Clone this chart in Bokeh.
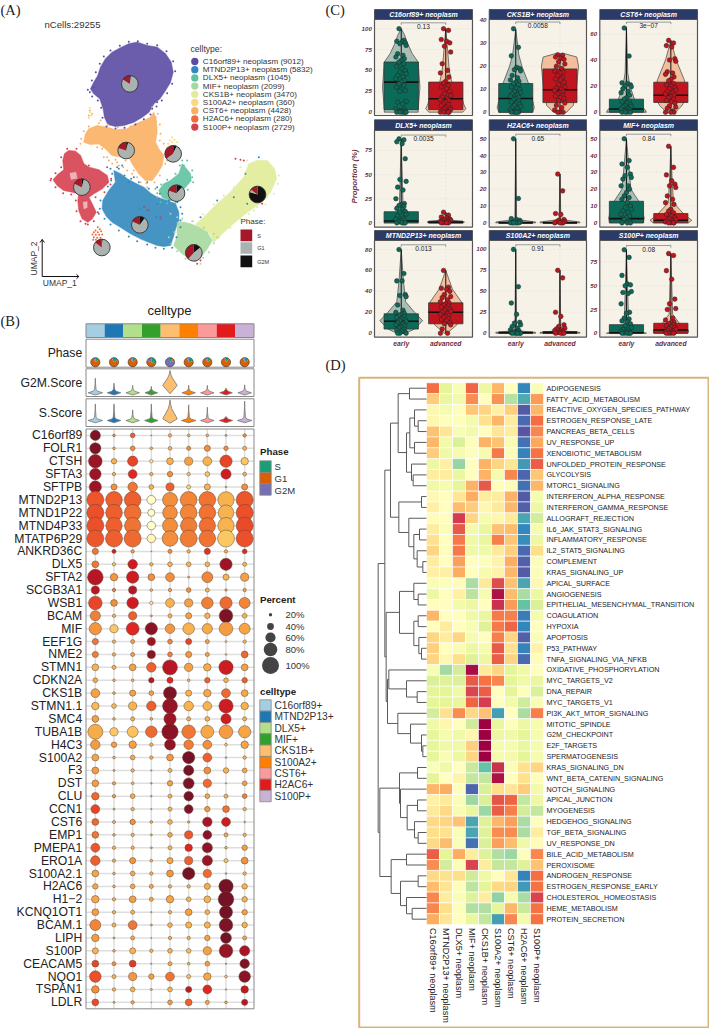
import numpy as np
from bokeh.plotting import figure
from bokeh.models import Range1d, LinearColorMapper, ColumnDataSource
from bokeh.core.properties import value
from bokeh.embed import file_html
from bokeh.resources import INLINE

SANS = value("Liberation Sans")
SERIF = value("Liberation Serif")

# ---------- Panel A data (UMAP coordinates) ----------
A_TYPES = ["C16orf89+ neoplasm (9012)", "MTND2P13+ neoplasm (5832)", "DLX5+ neoplasm (1045)", "MIF+ neoplasm (2099)",
           "CKS1B+ neoplasm (3470)", "S100A2+ neoplasm (360)", "CST6+ neoplasm (4428)", "H2AC6+ neoplasm (280)",
           "S100P+ neoplasm (2729)"]
A_COLORS = ["#5B4BA3", "#3288BD", "#5FC2A0", "#A5D99F", "#E0EC98", "#FBD97E", "#F9B063", "#F0693F", "#D5404F"]
BLOB_PURPLE = [(410,125),(440,135),(470,140),(495,160),(512,185),(518,215),(510,245),(495,270),(478,295),(460,310),(445,335),(425,350),(400,365),(370,375),(345,378),(322,372),(312,350),(308,325),(298,295),(280,280),(270,265),(280,245),(292,225),(300,200),(315,175),(335,155),(360,142),(385,130)]
BLOB_ORANGE = [(250,425),(255,400),(265,385),(290,375),(320,380),(345,388),(380,385),(405,370),(430,360),(450,350),(460,335),(468,360),(470,395),(465,425),(475,445),(490,465),(485,495),(470,520),(455,540),(435,540),(415,520),(405,505),(395,490),(385,470),(360,470),(335,465),(315,445),(295,430),(270,432)]
BLOB_RED = [(205,450),(225,452),(240,465),(250,490),(265,500),(295,508),(320,525),(325,545),(305,565),(280,580),(265,590),(275,610),(287,635),(275,655),(262,665),(245,655),(235,630),(232,600),(235,580),(215,575),(190,570),(170,555),(158,538),(172,522),(190,508),(187,480),(192,460)]
BLOB_BLUE = [(340,510),(360,520),(380,535),(405,548),(430,560),(450,578),(470,590),(500,600),(525,610),(535,635),(535,660),(525,685),(520,705),(510,735),(490,738),(470,735),(445,725),(420,715),(390,700),(360,680),(335,665),(318,648),(305,625),(307,600),(325,570),(345,545)]
BLOB_TEAL = [(545,490),(558,505),(570,520),(572,540),(555,560),(540,575),(530,600),(505,600),(485,590),(475,570),(490,550),(510,540),(535,520)]
BLOB_GREEN = [(530,665),(550,665),(570,670),(595,680),(620,695),(635,720),(620,745),(605,765),(590,775),(565,772),(545,760),(520,735),(530,705)]
BLOB_YELLOW = [(745,490),(770,480),(800,480),(822,505),(828,535),(810,575),(785,605),(740,635),(700,668),(665,700),(640,725),(628,698),(600,680),(585,672),(610,650),(650,610),(690,575),(730,530)]
HOLES = [[(208,518),(226,515),(230,533),(212,537)], [(248,605),(260,603),(260,622),(250,625)], [(345,480),(395,500),(410,530),(385,525),(350,500)], [(285,445),(322,462),(328,492),(302,498),(280,472)]]
STRAY_PURPLE = [(412,122),(440,130),(470,134),(498,152),(518,182),(524,212),(515,250),(500,278),(484,300),(468,318),(450,342),(430,356),(405,372),(372,382),(345,384),(318,378),(306,352),(302,322),(292,300),(275,288),(262,268),(274,240),(286,215),(298,190),(310,168),(330,150),(358,136),(385,124),(268,275),(280,262),(455,325),(470,305)]
STRAY_BLUE = [(350,500),(365,495),(385,545),(400,530),(440,545),(470,560),(505,600),(540,620),(540,680),(470,610),(545,640),(330,505),(300,600),(295,640),(735,520),(700,590),(600,650),(650,600),(775,470),(740,610),(335,520),(355,505),(372,525),(392,535),(415,545),(445,565),(478,580),(512,595),(530,605),(540,660),(528,710),(515,742),(490,745),(465,742),(440,732),(410,722),(385,708),(355,690),(330,672),(312,655),(298,625),(322,558),(332,540),(420,625),(432,618),(445,628),(468,650),(480,655)]
STRAY_ORANGE = [(480,400),(490,430),(300,360),(275,340),(268,330),(265,345),(455,320),(465,350),(420,545),(440,560),(395,520),(500,480),(240,430),(350,485),(320,470),(242,415),(250,392),(265,378),(295,368),(322,372),(352,380),(390,378),(472,340),(478,372),(478,420),(496,452),(494,490),(478,525),(462,546),(438,548),(410,530),(400,510),(375,480),(345,478),(325,480),(305,445),(290,440),(368,500),(380,510),(355,495),(335,490),(310,470)]
STRAY_RED = [(320,500),(150,540),(255,670),(430,620),(440,630),(480,650),(590,790),(600,780),(705,475),(720,478),(730,480),(785,610),(265,495),(200,445),(228,445),(182,470),(182,500),(165,518),(152,535),(165,560),(188,578),(212,582),(332,535),(330,552),(312,575),(285,590),(292,635),(280,662),(262,672),(240,662),(228,632),(226,600)]
STRAY_YELLOW = [(710,620),(680,650),(650,660),(770,620),(800,590),(740,480),(720,500),(745,640),(610,680),(640,650),(660,630),(735,515),(700,560),(670,585),(640,612),(608,642),(578,662),(835,525),(832,550),(820,580),(795,612),(760,630),(720,655),(690,682),(655,712)]
STRAY_GREEN = [(510,640),(530,650),(505,710),(640,700),(650,710),(600,790),(545,655),(575,662),(610,682),(640,728),(625,755),(608,772),(585,782),(555,775),(530,752),(512,730),(522,695)]
STRAY_TEAL = [(560,480),(545,480),(470,590),(480,605),(575,530),(465,565),(538,495),(550,495),(575,510),(578,545),(562,568),(545,585),(525,606),(500,608),(470,578),(482,552),(500,538),(525,520)]
STRAY_H2AC6 = [(292,680),(298,686),(285,690),(280,695),(292,695),(302,692),(276,702),(286,703),(296,703),(305,702),(280,710),(290,712),(300,712),(286,718),(296,722),(278,718)]
STRAY_S100A2 = [(515,410),(522,418),(508,420),(530,425),(515,425),(503,430),(525,435),(268,335),(272,345),(265,352),(268,322),(500,440),(535,442)]
PIE_CENTERS = [(388,250),(377,450),(518,460),(244,560),(528,578),(771,582),(418,673),(304,741),(580,757)]
PIE_G2M = [.02,.04,.07,.04,.12,.80,.10,.02,.14]
PIE_G1 = [.82,.76,.58,.78,.68,.05,.72,.83,.48]
PIE_S = [.16,.20,.35,.18,.20,.15,.18,.15,.38]

# ---------- Panel B data ----------
COLS_B = ["C16orf89+", "MTND2P13+", "DLX5+", "MIF+", "CKS1B+", "S100A2+", "CST6+", "H2AC6+", "S100P+"]
COLS_B_COLORS = ["#A6CEE3", "#1F78B4", "#B2DF8A", "#33A02C", "#FDBF6F", "#FF7F00", "#FB9A99", "#E31A1C", "#CAB2D6"]
GENES = ["C16orf89","FOLR1","CTSH","SFTA3","SFTPB","MTND2P13","MTND1P22","MTND4P33","MTATP6P29","ANKRD36C","DLX5","SFTA2","SCGB3A1","WSB1","BCAM","MIF","EEF1G","NME2","STMN1","CDKN2A","CKS1B","STMN1.1","SMC4","TUBA1B","H4C3","S100A2","F3","DST","CLU","CCN1","CST6","EMP1","PMEPA1","ERO1A","S100A2.1","H2AC6","H1\u22122","KCNQ1OT1","BCAM.1","LIPH","S100P","CEACAM5","NQO1","TSPAN1","LDLR"]
PCT = [
[60,16,28,6,20,16,16,12,20],[66,16,28,16,22,24,36,26,24],[80,32,60,20,40,48,52,72,44],[68,20,52,20,32,20,28,60,22],[72,36,56,28,48,24,36,10,36],
[100,98,98,52,88,98,98,96,100],[100,98,98,42,86,98,98,92,100],[100,96,96,50,88,96,96,96,100],[100,100,100,50,92,100,98,100,100],
[36,24,20,6,24,20,36,20,28],[40,20,56,20,28,28,28,72,24],[92,44,72,40,52,12,64,36,48],[48,20,48,16,20,28,24,14,20],[80,40,68,20,52,48,68,72,64],
[60,20,48,12,24,36,32,80,28],[72,48,76,72,56,68,60,80,64],[36,20,24,48,28,36,24,12,20],[36,20,24,48,28,36,24,10,40],[40,24,40,56,88,48,44,84,40],
[28,16,16,32,36,16,32,28,32],[52,16,36,28,76,36,44,52,40],[44,28,48,56,88,56,52,84,44],[40,16,24,16,72,24,28,60,24],[88,48,64,68,96,80,76,80,72],
[56,32,44,20,64,56,52,16,44],[40,16,28,20,40,72,52,10,20],[40,12,20,8,24,60,40,32,28],[40,20,16,10,32,64,48,8,28],[44,20,28,10,24,56,28,24,28],
[52,12,20,8,24,52,32,40,20],[40,18,32,16,28,14,56,52,10],[40,16,20,12,28,48,52,24,20],[52,20,20,12,24,44,60,16,32],[56,20,36,16,36,48,60,24,40],
[40,16,28,20,40,72,48,10,20],[32,16,28,24,20,20,36,84,32],[44,20,40,24,44,28,40,92,32],[40,20,24,8,20,40,28,76,32],[64,24,52,12,28,36,36,80,32],
[44,12,24,6,20,20,32,64,24],[36,16,36,20,28,28,48,80,60],[40,24,40,8,24,16,28,8,56],[68,24,48,32,52,24,44,16,68],[44,20,28,12,28,36,52,8,44],[40,12,20,4,28,40,24,16,36]]
LVL = [
[8,4,5,4,3,3,3,3,4],[8,3,4,3,3,4,4,4,3],[7.5,3,5.5,1,3,3.5,3,5.5,2.5],[7.5,3,6,3,4,2.5,2.5,6.5,3],[7.5,4,4.5,3,5,2,3,3,4],
[5.2,5,5,0,4,4.2,4.6,3,5.2],[5.3,5,4.7,0,4,4.2,4.6,3,5.3],[5.3,5,4.6,0,4,4.4,4.7,3,5.4],[5.2,5,4.8,.5,4,4.4,4.6,2.5,5.3],
[4.5,6.5,3.5,3,4,3,5.8,3,6],[4.5,2.5,6.5,3,3,3,3,7.5,3],[7,3.8,6.5,4,4,3,4.2,3,3.5],[7,4.5,7,3,3.5,4,3,3,3.5],[5.5,4,6.5,1,3,3.5,4.3,4.8,4.2],
[4.3,3,5,3,3,3.5,3,8,3],[3.8,2.5,6,7.8,3.8,3,3.2,3.6,3.4],[4.5,3,3.5,7.5,4.2,5.5,3.5,1.5,3],[4.3,3,3.5,7.8,4.3,3.8,3.5,2.5,4.8],[3,3,3.5,5,7,3.5,3.2,6.5,3.5],
[3.2,3,3,7,6,3,5,3,5],[3.5,3,3.5,3.5,8,3,3.3,4.8,3.3],[2.8,2.8,3,5,7.6,3,3,6.5,3],[3.5,3,3,3,7.5,3,3,6.5,3],[3.2,2.5,2.6,4.8,7.8,4.5,3.3,3.6,3.4],
[3.6,3.5,3.5,3,7.7,4.4,4,2.5,3.3],[3.4,3,3.3,3,3.8,8.2,5,3,3],[3.6,3,3,3,3,8.2,4,3,3.4],[3.6,3.5,3,3,3.5,8,4.8,3,3.5],[4.8,3.5,3.2,3,3,8.2,3.3,3,4.3],
[5.5,3,3,3,3,8,3.7,4.6,3],[4.8,3,4,3,3,3,7.3,6.5,3],[4.5,3,3,3,3.3,5.2,7.8,3.3,3],[5.2,3,3,3,3,6,7.7,3,3.5],[5,3.2,3.8,3,3.3,5,7.5,2.5,3.9],
[3.4,3,3.3,3,3.8,8.2,4.8,3,3],[3.3,3,3.4,3.3,3,3,3.2,8.2,3],[3.3,3,3.5,3.3,3.4,3,3,8.2,3],[3.5,3,3,3,3,3.5,3,8.2,3.5],[4.2,3,4.5,3,3,3,3,8,3],
[3.6,3,3.3,3,3,3,3.4,8.2,3.4],[3,3,3,3,3,2.8,3.5,7.6,7.3],[5.5,4,5.7,3,3.3,3,3.6,4,8],[5.3,3,3.8,3.5,4.6,2.6,3.3,2.5,7.8],[4,3,3,3,3,6.7,6,3,6.7],[5.4,3,3.3,3,3.6,5,3.3,3,7]]
LEVEL_COLORS = ["#FFFFCC","#FFEDA0","#FCD976","#F8B04C","#F28A3A","#EE5A2C","#DC1F20","#B01526","#741226"]
PHASE_COLORS_B = ["#1B9E77", "#D95F02", "#7570B3"]
PHASE_NAMES = ["S", "G1", "G2M"]
B_PIE_S = [.14,.16,.12,.30,.10,.22,.14,.12,.16]
B_PIE_G1 = [.80,.76,.80,.52,.12,.72,.80,.82,.78]
B_PIE_G2M = [.06,.08,.08,.18,.78,.06,.06,.06,.06]
G2M_TOPS = [.97,.64,.49,.42,1.49,.49,.49,.31,.53]
G2M_WIDTH = [.39,.36,.36,.34,.39,.36,.36,.34,.36]
S_TOPS = [1.11,1.11,.71,1.11,1.38,1.05,.89,.27,1.29]
S_WIDTH = [.39,.36,.36,.36,.39,.39,.36,.36,.39]
LEGEND_PCT = [20,40,60,80,100]

# ---------- Panel C data ----------
C_TITLES = ["C16orf89+ neoplasm","CKS1B+ neoplasm","CST6+ neoplasm","DLX5+ neoplasm","H2AC6+ neoplasm","MIF+ neoplasm","MTND2P13+ neoplasm","S100A2+ neoplasm","S100P+ neoplasm"]
C_P = ["0.13","0.0058","3e\u221207","0.0035","0.65","0.84","0.013","0.91","0.08"]
C_TICKS = [[0,25,50,75,100],[0,10,20,30,40],[0,20,40,60],[0,25,50,75],[0,10,20,30,40,50],[0,10,20,30,40,50],[0,20,40,60,80],[0,25,50,75,100],[0,25,50,75]]
C_YRANGE = [(-4,111),(-1.4,40.3),(-2.5,71),(-4.5,95.7),(-2.6,54.9),(-2.6,54.9),(-3.8,88.6),(-4.8,110.6),(-4.2,97.8)]
C_BRACKET = [107,39.2,69,91,52.7,52.7,84.5,105.5,92.5]
# box: q1, median, q3, whisker high
C_BOX_E = [(3,36,60,100),(0,6,12.5,36),(0,2.5,10,65),(0,2,11.5,87),(0,0,.5,50),(0,2.5,12.8,50),(4,11.5,18.5,80),(0,.5,1.5,100),(0,.5,9,88)]
C_BOX_A = [(3,16,36,100),(4.2,9.8,18.8,25),(7.5,13,23,55),(0,.5,1.8,11),(0,0,.5,29),(0,1.5,5.5,45.5),(9,20,29,60),(0,.7,2,75),(0,3.5,10.5,84)]
# violin profile: (value, half width)
C_VIO_E = [[(0,.38),(3,.38),(30,.42),(60,.38),(70,.25),(85,.12),(92,.08),(100,0)],
           [(0,.38),(2,.42),(12,.3),(20,.14),(25,.07),(36,0)],
           [(0,.45),(2,.42),(8,.2),(20,.08),(30,.03),(65,0)],
           [(0,.38),(2,.3),(10,.1),(20,.04),(87,0)],
           [(0,.45),(.5,.45),(2,.02),(50,0)],
           [(0,.38),(3,.4),(12,.3),(20,.1),(35,.05),(50,0)],
           [(0,.1),(4,.3),(12,.48),(20,.3),(30,.1),(50,.05),(80,0)],
           [(0,.45),(1,.45),(3,.02),(100,0)],
           [(0,.45),(2,.2),(10,.05),(88,0)]]
C_VIO_A = [[(0,.38),(4,.45),(10,.4),(20,.35),(37,.13),(50,.08),(75,.04),(100,0)],
           [(0,.15),(3,.3),(10,.37),(20,.42),(24,.38),(25.5,.1)],
           [(0,.1),(5,.25),(13,.38),(25,.3),(40,.12),(55,0)],
           [(0,.4),(1,.42),(3,.1),(11,0)],
           [(0,.45),(.5,.45),(2,.02),(29,0)],
           [(0,.4),(1.5,.47),(5,.3),(12,.06),(25,.03),(45.5,0)],
           [(0,.03),(8,.25),(20,.38),(30,.35),(42,.15),(60,0)],
           [(0,.45),(1,.45),(3,.02),(75,0)],
           [(0,.38),(3,.4),(10,.2),(20,.04),(84,0)]]
C_PTS_E = [[100,86,85,84,83,82,80,70,68,66,64,62,60,58,55,52,50,48,46,44,42,40,38,36,34,32,30,28,26,25,13,12,10,4,3,2,1,0,0,0,0,0,0],
           [36.3,28.2,24.5,19.5,19,18.5,18,16,15,14,13.5,13,12.5,12,11,10.5,10,9,8.5,8,7.5,7,6.5,6,5.5,5,4.5,4,3.5,3,2.5,2,1.5,1,.5,0,0,0,0,0],
           [64.5,43,22.5,22,21,20,19.5,18,16,15,13,11,10,8.5,8,7,6,5,4.5,4,3,2.5,2,1.5,1,.5,0,0,0,0],
           [87,86,84,82,66.5,45,43,37,34,25,20,19,18,17,15,14,12,11,9,7,5,4,3,2,1,0,0,0,0],
           [50,14.5,2.5,2,1.5,1,.5,0,0,0,0,0,0],
           [50,37,35,33,29,28,27,26,22,22,20,18,16,15,14,12,10,9,8,7,6,5,4,3,2,1,0,0,0],
           [80,57,50,50,37,36,35,27,22,20,19,18,17,16,15,14,13,12,11,10,9,8,7,6,5,4,3,2,1,0,0,0],
           [100,55.5,36,22.5,13,12,10,8,6,4,3,2,1.5,1,.5,0,0,0,0,0,0],
           [88,80,61,52,51,50,44,43,42,31,22,21,16,15,13,12,10,8,6,4,3,2,1,.5,0,0,0,0,0]]
C_PTS_A = [[100,98,87,85,83,79,72,58,50,47,42,37,35,32,30,28,25,22,20,18,16,15,14,12,10,9,8,6,5,4,3,2,1,0,0,0,0,0],
           [25,24.8,24,23.5,23,22,21,20,19,18,17.5,17,16,15,14.5,14,13,12,11,10.5,10,9.5,9,8.5,8,7.5,7,6.5,6,5,4,3,2,1,0,0,0],
           [55,53,51,50,41,40,39,31,30,29,27,25,24,22,21,20,19,18,17,16,15,14,13,12,11,10,9,8,7,5,4,3,1,0,0,0],
           [11,8,6,5,4,3.5,3,2.5,2,1.5,1,.5,0,0,0,0],
           [29,19,5.5,5,2,1.5,1,.5,0,0,0,0],
           [45.5,33,28.5,25,23,22,21,16,14,12,11,8,7,6,5,4,3,2.5,2,1.5,1,.5,0,0,0,0],
           [60,44,43,42,40,37,35,34,32,30,29,28,27,26,25,24,23,22,21,20,19,18,17,16,15,14,13,12,10,9,8,4,0,0],
           [75,66,25,20,10,8,6,5,4,3,2,1,.5,0,0,0,0],
           [84,82,66,57,36,31,26,25,16,14,12,11,10,9,8,7,6,5,4,3,2,1,.5,0,0,0,0]]
JITTER = [-.05,.06,-.1,.02,.09,-.03,.11,-.08,.04,-.12,.07,0]

# ---------- Panel D data ----------
D_COLS = ["C16orf89+ neoplasm","MTND2P13+ neoplasm","DLX5+ neoplasm","MIF+ neoplasm","CKS1B+ neoplasm","S100A2+ neoplasm","CST6+ neoplasm","H2AC6+ neoplasm","S100P+ neoplasm"]
PATHWAYS = ["ADIPOGENESIS","FATTY_ACID_METABOLISM","REACTIVE_OXYGEN_SPECIES_PATHWAY","ESTROGEN_RESPONSE_LATE","PANCREAS_BETA_CELLS","UV_RESPONSE_UP","XENOBIOTIC_METABOLISM","UNFOLDED_PROTEIN_RESPONSE","GLYCOLYSIS","MTORC1_SIGNALING","INTERFERON_ALPHA_RESPONSE","INTERFERON_GAMMA_RESPONSE","ALLOGRAFT_REJECTION","IL6_JAK_STAT3_SIGNALING","INFLAMMATORY_RESPONSE","IL2_STAT5_SIGNALING","COMPLEMENT","KRAS_SIGNALING_UP","APICAL_SURFACE","ANGIOGENESIS","EPITHELIAL_MESENCHYMAL_TRANSITION","COAGULATION","HYPOXIA","APOPTOSIS","P53_PATHWAY","TNFA_SIGNALING_VIA_NFKB","OXIDATIVE_PHOSPHORYLATION","MYC_TARGETS_V2","DNA_REPAIR","MYC_TARGETS_V1","PI3K_AKT_MTOR_SIGNALING","MITOTIC_SPINDLE","G2M_CHECKPOINT","E2F_TARGETS","SPERMATOGENESIS","KRAS_SIGNALING_DN","WNT_BETA_CATENIN_SIGNALING","NOTCH_SIGNALING","APICAL_JUNCTION","MYOGENESIS","HEDGEHOG_SIGNALING","TGF_BETA_SIGNALING","UV_RESPONSE_DN","BILE_ACID_METABOLISM","PEROXISOME","ANDROGEN_RESPONSE","ESTROGEN_RESPONSE_EARLY","CHOLESTEROL_HOMEOSTASIS","HEME_METABOLISM","PROTEIN_SECRETION"]
HEAT = [
[8,4,4.7,8.2,4.3,6.8,5,1,4.8],[6.4,4.2,4.5,7.5,5,7.4,3.2,1.6,7.3],[5.3,4.6,4.9,6.5,6.2,5.5,6.3,.2,6.8],[5.3,4.9,4.9,4.5,5.9,6.8,5.6,.5,8],[6.6,5.8,4.7,4.5,5,5.8,5.6,.1,7.6],
[6.8,4.5,3.8,4.9,6.9,6.6,4.7,.6,7.1],[6.4,4.4,4.6,4.9,4.6,7.8,4.8,.9,7.9],[4.3,5.5,2.7,5,6.9,6.2,5.8,1.3,8.3],[5.6,5.6,4.2,5,6.9,4.6,7.6,.4,6.5],[4.4,4.6,4.1,6.9,8.4,4.9,5.1,.6,6.8],
[5.2,5,5.8,7,5.6,5.6,6.9,.2,4.6],[5.5,5,6.7,6.4,5.3,5.7,6.8,.3,4.3],[5.1,5,9,6.2,4.6,5.3,5.7,1.5,3.7],[5.6,4.8,8.4,4.5,4.2,6.6,6.7,1,4.6],[5.9,5,7.8,4.4,4.2,7.7,6.5,1.1,4.3],
[6.2,4.9,7.8,4.4,4.4,5.7,6.3,.5,6],[5.6,5,7.2,5,4.9,5.4,7,.3,4.8],[5.5,5.5,7,5,4.6,5.4,6.8,.2,4.8],[4.7,4.9,5.1,3,5.7,8.7,6.6,1.5,5.2],[4.3,5,5.5,3.3,4.6,9.7,6.7,3,4.3],
[5,5,4.5,4.3,5,9.2,7.3,2,3.8],[6.8,5,5,4.4,4.2,7.8,7.7,.8,4.6],[5,5.6,5,4.7,3.9,7.8,8.2,1,5],[6.2,5.6,6.2,4.6,5,7.7,6.2,.3,4.8],[6.3,5,4.7,4.3,4.6,8.4,5.9,.9,5.4],
[6.2,5.2,6,3.9,4.3,8.3,6.2,.5,5.1],[4.7,2.9,3.7,9.8,5.7,6.2,4,4.4,5],[3.8,3.9,3.8,8.4,7.9,7.6,4,4.4,4.2],[4,4,4.4,8.8,8.3,5,4,4.9,3.8],[4,4,4.2,8.2,9,5,4.5,3.6,4.7],
[3.7,5.9,7.5,6.1,6.6,1.4,5,3,7.7],[4.4,5.3,5,3.6,10,4.2,4.9,4.3,4.6],[4.1,4.6,4.4,5.3,10,4.3,4.4,4,4.6],[4.1,4.4,4.4,6.3,10,4.6,4.6,4.2,4.6],[4.1,4.7,4.3,6.2,10,4.6,4.5,4,4.6],
[4.8,4.4,5,3.5,2,9.2,4.8,5.9,6.2],[4,5,5.4,3.4,3.4,9.7,5,5.9,4.9],[6.8,7,5,.4,3.8,6,5.8,6.4,4.5],[5.5,5.7,4.8,2.8,3.8,8.5,8.2,3.4,4.3],[5.7,6.1,4.7,4.2,2.8,8.3,7.7,3.7,3.4],
[6.1,6.2,6.6,1.5,3.9,6.8,7.2,3,4.9],[6,5.9,4.8,1.5,3.9,7.5,7.5,3,5.6],[6.1,6.7,4.8,.6,3.8,7.2,6.7,4.4,5.1],[8.3,4,7,5.6,3.9,3.1,2.8,4.9,7.6],[7.5,3.7,4.8,8.9,5.6,3.4,3.4,3.9,6.6],
[6.1,5.9,6,3.6,4.4,5,5.8,.9,8],[6.7,5.8,4.9,3.3,4,6.1,6.2,1.3,7.9],[7.6,5.6,4.8,3.9,5.6,2.6,4.6,3,8.9],[7.6,6,4.9,3.1,3.1,4.1,6.8,3.5,7.9],[7,5.8,5,4.2,3.4,1.4,7.6,4.5,7.9]]
SPECTRAL = ["#5E4FA2","#3288BD","#66C2A5","#ABDDA4","#E6F598","#FFFFBF","#FEE08B","#FDAE61","#F46D43","#D53E4F","#9E0142"]
N_A = (108,(85,(51,0,1),(60,(50,(36,2,(25,3,4)),(36,5,6)),(45,7,(40,8,9)))),
           (83,(15,10,11),(53,12,(38,(21,13,14),(28,15,(11,16,17))))))
N_B = (81,(38,18,(25,19,20)),(38,(25,21,22),(23,23,(15,24,25))))
N_C = (117,(113,26,(60,27,(28,28,29))),(86,30,(48,31,(15,32,(11,33,34)))))
N_D = (81,(27,35,36),(78,37,(58,(27,38,39),(36,40,(25,41,42)))))
N_E = (106,(60,43,44),(78,(25,45,46),(60,47,(43,48,49))))
TREE = (145,(125,N_A,(121,N_B,N_C)),(140,N_D,N_E))


def ramp(colors, n=256):
    rgb = np.array([[int(c[i:i+2],16) for i in (1,3,5)] for c in colors], float)
    t = np.linspace(0, len(colors)-1, n)
    out = []
    for v in t:
        i = min(int(v), len(colors)-2)
        f = v-i
        r = rgb[i]*(1-f)+rgb[i+1]*f
        out.append("#%02X%02X%02X" % tuple(int(round(x)) for x in r))
    return out

p = figure(width=709, height=1028, x_range=Range1d(0,709), y_range=Range1d(1028,0),
           output_backend="svg", toolbar_location=None, min_border=0,
           x_axis_location=None, y_axis_location=None, outline_line_color=None,
           background_fill_color="white", border_fill_color="white")
p.grid.visible = False
p.styles = {"position":"absolute","left":"0px","top":"0px"}

def sub(xs, xt, ys, yt):
    return p.subplot(x_source=Range1d(*xs), y_source=Range1d(*ys), x_target=Range1d(*xt), y_target=Range1d(*yt))

def txt(g, x, y, s, size, color="#222222", align="left", base="middle", font=SANS, style="normal", angle=0.0):
    if not isinstance(x, (list, tuple, np.ndarray)):
        x, y, s = [x], [y], [s]
    g.text(x=list(x), y=list(y), text=list(s), text_font=font, text_font_size=f"{size}px", text_color=color,
           text_align=align, text_baseline=base, text_font_style=style, angle=angle)

# panel letters
txt(p, [0,0,325,325], [9,320,9,364], ["(A)","(B)","(C)","(D)"], 14.5, color="#222222", font=SERIF)

# ---------- Panel A ----------
ga = sub((0,1020),(0,340),(0,960),(0,320))
blobs = [(BLOB_PURPLE,0),(BLOB_ORANGE,6),(BLOB_BLUE,1),(BLOB_TEAL,2),(BLOB_YELLOW,4),(BLOB_GREEN,3),(BLOB_RED,8)]
for b, c in blobs:
    ga.patch([q[0] for q in b],[q[1] for q in b], fill_color=A_COLORS[c], line_color=A_COLORS[c], line_width=1.2, line_alpha=.5, fill_alpha=.9)
for h in HOLES:
    ga.patch([q[0] for q in h],[q[1] for q in h], fill_color="white", line_color="white", fill_alpha=.55, line_alpha=.2)
for pts, c in [(STRAY_PURPLE,0),(STRAY_BLUE,1),(STRAY_ORANGE,6),(STRAY_RED,8),(STRAY_YELLOW,4),(STRAY_GREEN,3),(STRAY_TEAL,2),(STRAY_H2AC6,7),(STRAY_S100A2,5)]:
    ga.scatter([q[0] for q in pts],[q[1] for q in pts], size=2, color=A_COLORS[c], line_width=0)

def pie_poly(cx, cy, r, t0, t1):
    t = np.linspace(t0, t1, max(3, int((t1-t0)*40)+2))*2*np.pi
    return [cx]+list(cx+r*np.sin(t))+[cx], [cy]+list(cy-r*np.cos(t))+[cy]

def pies(g, centers, r, fr0, fr1, fr2, cols, line, scale, lw):
    xs, ys, cs = [], [], []
    for (cx, cy), a, b, c in zip(centers, fr0, fr1, fr2):
        st = 0
        for f, col in zip((a, b, c), cols):
            x, y = pie_poly(cx, cy, r, st, st+f)
            xs.append(x); ys.append(y); cs.append(col)
            st += f
    g.patches(xs, ys, fill_color=cs, line_color=None)
    g.scatter([q[0] for q in centers],[q[1] for q in centers], marker="circle", size=2*r*scale, fill_color=None, line_color=line, line_width=lw)

pies(ga, PIE_CENTERS, 25, PIE_G2M, PIE_G1, PIE_S, ["#111111","#ABB3B0","#A5182A"], "#333333", 1/3, .9)

txt(p, 44, 23.7, "nCells:29255", 9.6, color="#333333")
txt(p, 190, 48, "celltype:", 8.6, color="#333333")
ly = 61 + 8.2*np.arange(9)
p.scatter([194.3]*9, list(ly), size=7.3, color=A_COLORS, line_width=0)
txt(p, [202.3]*9, list(ly), A_TYPES, 8.1, color="#333333")
txt(p, 240, 221, "Phase:", 8, color="#333333")
p.quad(left=[240]*3, right=[251.7]*3, top=[229,241.7,255], bottom=[240.7,253.3,266.7], fill_color=["#A5182A","#ABB3B0","#111111"], line_color=None)
txt(p, [256.7]*3, [235,247.5,261], PHASE_NAMES, 5.5, color="#333333")
# arrows
p.segment([41.7,41.7],[276,276],[41.7,78.3],[239,276], line_color="#111111", line_width=1)
p.segment([39.5,43.9,76,76],[242,242,273.8,278.2],[41.7,41.7,78.3,78.3],[239,239,276,276], line_color="#111111", line_width=1)
txt(p, 33.7, 258, "UMAP_2", 8.5, color="#333333", align="center", angle=np.pi/2)
txt(p, 42.3, 282, "UMAP_1", 8.5, color="#333333")

# ---------- Panel B ----------
txt(p, 169, 310, "celltype", 13, color="#222222", align="center")
n_c = len(COLS_B)
bx0, bx1 = 85.5, 253.5
gs = sub((-.5,8.5),(bx0,bx1),(0,1),(337,323.3))
gs.quad(left=list(np.arange(n_c)-.5), right=list(np.arange(n_c)+.5), bottom=[0]*n_c, top=[1]*n_c, fill_color=COLS_B_COLORS, line_color=None)
gs.quad(left=[-.5], right=[8.5], bottom=[0], top=[1], fill_color=None, line_color="#888888", line_width=1)

gp = sub((-.5,8.5),(bx0,bx1),(0,1),(366.7,338.7))
gp.quad(left=[-.5], right=[8.5], bottom=[0], top=[1], fill_color=None, line_color="#888888", line_width=1)
col_px = bx0 + 9.33 + 18.667*np.arange(9)
pies(p, [(x, 361.7) for x in col_px], 4.6, B_PIE_S, B_PIE_G1, B_PIE_G2M, PHASE_COLORS_B, "#333333", 1, .6)
txt(p, 81.7, 352.7, "Phase", 12.2, align="right")

def score_violins(ybot, ytop, yr, tops, widths, special, label, label_y):
    g = sub((-.5,8.5),(bx0,bx1),yr,(ybot,ytop))
    xs, ys = [], []
    for i,(t,w) in enumerate(zip(tops,widths)):
        if i == 4:
            prof = special
        else:
            prof = [(-.15,0),(0,w),(.1,w*.3),(.22,.04),(t*.6,.012),(t,0)]
        x = [i+q[1] for q in prof]+[i-q[1] for q in reversed(prof)]
        y = [q[0] for q in prof]+[q[0] for q in reversed(prof)]
        xs.append(x); ys.append(y)
    g.patches(xs, ys, fill_color=COLS_B_COLORS, line_color="#777777", line_width=.8)
    g.quad(left=[-.5], right=[8.5], bottom=[yr[0]], top=[yr[1]], fill_color=None, line_color="#888888", line_width=1)
    txt(p, 81.7, label_y, label, 12.2, align="right")

score_violins(396, 368.3, (-.25,1.6), G2M_TOPS, G2M_WIDTH, [(-.07,0),(.49,.39),(1.0,.12),(1.2,.05),(1.49,0)], "G2M.Score", 382.5)
score_violins(426, 398.3, (-.4,1.45), S_TOPS, S_WIDTH, [(-.18,0),(.11,.39),(.8,.09),(1.1,.03),(1.38,0)], "S.Score", 412)

n_g = len(GENES)
gd = sub((-.5,8.5),(bx0,bx1),(-.5,44.5),(428.5,1008.3))
gd.segment([-.5]*n_g, list(range(n_g)), [8.5]*n_g, list(range(n_g)), line_color="#DEDEDE", line_width=1.5)
gd.segment(list(range(9)), [-.5]*9, list(range(9)), [44.5]*9, line_color="#DEDEDE", line_width=1.5)
gd.quad(left=[-.5], right=[8.5], bottom=[-.5], top=[44.5], fill_color=None, line_color="#888888", line_width=1)
dx, dy, ds, dl = [], [], [], []
for r,(pr,lr) in enumerate(zip(PCT,LVL)):
    for c,(a,b) in enumerate(zip(pr,lr)):
        dx.append(c); dy.append(r); ds.append(a*.17); dl.append(b)
src = ColumnDataSource(dict(x=dx,y=dy,s=ds,l=dl))
mapper = LinearColorMapper(palette=ramp(LEVEL_COLORS), low=0, high=8.2)
gd.scatter("x","y",size="s",source=src,fill_color={"field":"l","transform":mapper},line_color="#5A4A3A",line_width=.5)
gene_y = 428.5 + (np.arange(n_g)+.5)*(1008.3-428.5)/n_g
txt(p, [81.7]*n_g, list(gene_y), GENES, 12.2, align="right")

# right legends of B
txt(p, 259.5, 451, "Phase", 9.7, style="bold")
p.quad(left=[259.3]*3, right=[270.7]*3, top=[460.3,472,483.3], bottom=[472,483.3,494.7], fill_color=PHASE_COLORS_B, line_color="#888888", line_width=.8)
txt(p, [274]*3, [466,478,489.5], PHASE_NAMES, 9.5, color="#333333")
txt(p, 259.5, 599, "Percent", 9.7, style="bold")
leg_y = [614.3,626,637,649,665]
p.scatter([270]*5, leg_y, size=[v*.17 for v in LEGEND_PCT], color="#444444", line_width=0)
txt(p, [285]*5, leg_y, [f"{v}%" for v in LEGEND_PCT], 9.5, color="#333333")
txt(p, 259.5, 690.7, "celltype", 9.7, style="bold")
ct = 699.3 + 11.33*np.arange(9)
p.quad(left=[259.3]*9, right=[270.7]*9, top=list(ct), bottom=list(ct+11.33), fill_color=COLS_B_COLORS, line_color="#888888", line_width=.8)
txt(p, [274]*9, list(ct+5.7), COLS_B, 10.2, color="#333333")

# ---------- Panel C ----------
cols_x = [(374,472),(488.7,586),(599.3,697)]
rows_y = [(9,19,115),(119.3,130,226.7),(230,240,336.7)]
TITLE_COL = "#2B3A67"
GRP = [("#0B6B58","#A9BFB5"),("#C0141E","#F2BE9B")]
TICK_COL = "#6B2D3C"
for k in range(9):
    r, c = divmod(k,3)
    x0,x1 = cols_x[c]; y0,y1,y2 = rows_y[r]
    p.quad(left=[x0], right=[x1], top=[y0], bottom=[y1], fill_color=TITLE_COL, line_color="#444444", line_width=.8)
    txt(p, (x0+x1)/2, (y0+y1)/2+.3, C_TITLES[k], 7, color="white", align="center", style="bold italic")
    ymin,ymax = C_YRANGE[k]
    g = sub((.4,2.6),(x0,x1),(ymin,ymax),(y2,y1))
    g.quad(left=[.4], right=[2.6], bottom=[ymin], top=[ymax], fill_color="#F6F2E8", line_color=None)
    t = C_TICKS[k]
    g.segment([.4]*len(t), t, [2.6]*len(t), t, line_color="#E2DED6", line_width=.6, line_dash="2 2")
    g.segment([1,2],[ymin]*2,[1,2],[ymax]*2, line_color="#E2DED6", line_width=.6, line_dash="2 2")
    for gi,(box,vio,pts) in enumerate([(C_BOX_E[k],C_VIO_E[k],C_PTS_E[k]),(C_BOX_A[k],C_VIO_A[k],C_PTS_A[k])]):
        cx = gi+1
        g.patch([cx+q[1] for q in vio]+[cx-q[1] for q in reversed(vio)], [q[0] for q in vio]+[q[0] for q in reversed(vio)],
                fill_color=GRP[gi][1], line_color="#444444", line_width=.7)
        g.segment([cx],[0],[cx],[box[3]], line_color="#111111", line_width=1)
        g.quad(left=[cx-.385], right=[cx+.385], bottom=[box[0]], top=[box[2]], fill_color=GRP[gi][0], line_color="#333333", line_width=.8)
        g.segment([cx-.385],[box[1]],[cx+.385],[box[1]], line_color="#111111", line_width=1.6)
        jx = [cx+JITTER[i%len(JITTER)] for i in range(len(pts))]
        g.scatter(jx, pts, size=4.6, fill_color=GRP[gi][0], line_color="#222222", line_width=.5)
    b = C_BRACKET[k]
    tick_len = (ymax-ymin)/96*2
    g.multi_line([[1,1,2,2]], [[b-tick_len,b,b,b-tick_len]], line_color="#777777", line_width=.7)
    g.text(x=[1.5], y=[b-tick_len*1.9], text=[C_P[k]], text_font=SANS, text_font_size="6.6px", text_color="#222222", text_align="center", text_baseline="middle")
    g.quad(left=[.4], right=[2.6], bottom=[ymin], top=[ymax], fill_color=None, line_color="#555555", line_width=1.2)
    # y ticks
    g.text(x=[.4-.06]*len(t), y=t, text=[str(v) for v in t], text_font=SANS, text_font_size="6.2px", text_color=TICK_COL, text_font_style="bold italic", text_align="right", text_baseline="middle")
    if r == 2:
        txt(p, [x0+(1-.4)*(x1-x0)/2.2, x0+(2-.4)*(x1-x0)/2.2], [342.5]*2, ["early","advanced"], 6.8, color=TICK_COL, align="center", style="bold italic")
txt(p, 354, 176, "Proportion (%)", 7.8, color=TICK_COL, align="center", style="bold italic", angle=np.pi/2)

# ---------- Panel D ----------
p.quad(left=[358.7], right=[708], top=[377.3], bottom=[1027], fill_color=None, line_color="#D9B57C", line_width=2)
gh = sub((-.5,8.5),(426,543),(-.5,49.5),(382.3,924.1))
hx, hy, hv = [], [], []
for r,row in enumerate(HEAT):
    for c,v in enumerate(row):
        hx.append(c); hy.append(r); hv.append(v)
hs = ColumnDataSource(dict(l=[a-.5 for a in hx], r=[a+.5 for a in hx], t=[a-.5 for a in hy], b=[a+.5 for a in hy], v=hv))
hmap = LinearColorMapper(palette=ramp(SPECTRAL), low=0, high=10)
gh.quad(left="l", right="r", top="t", bottom="b", source=hs, fill_color={"field":"v","transform":hmap}, line_color="white", line_width=.6)
row_y = 382.3 + (np.arange(50)+.5)*(924.1-382.3)/50
txt(p, [546]*50, list(row_y), PATHWAYS, 7.2, color="#222222")
col_x = 426 + 13*(np.arange(9)+.5)
txt(p, list(col_x), [927.5]*9, D_COLS, 9.1, color="#222222", angle=-np.pi/2)

gt = sub((0,147),(426,377),(-.5,49.5),(382.3,924.1))
sx0, sy0, sx1, sy1 = [], [], [], []
def walk(n):
    if isinstance(n,int):
        return float(n), 0.0
    h,a,b = n
    ya,ha = walk(a); yb,hb = walk(b)
    sx0.extend([ha,hb,h]); sy0.extend([ya,yb,ya]); sx1.extend([h,h,h]); sy1.extend([ya,yb,yb])
    return (ya+yb)/2, h
walk(TREE)
gt.segment(sx0,sy0,sx1,sy1,line_color="#5A5A5A",line_width=1)

open("out.html","w").write(file_html(p, INLINE))
